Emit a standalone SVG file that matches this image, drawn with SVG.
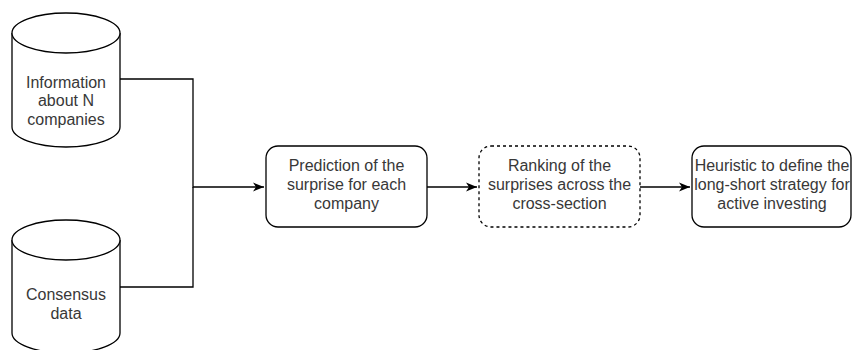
<svg xmlns="http://www.w3.org/2000/svg" width="852" height="350" viewBox="0 0 852 350">
  <style>
    .shape { fill: #ffffff; stroke: #000000; stroke-width: 1.3; }
    .dashed { stroke-dasharray: 3 3; }
    .edge { fill: none; stroke: #000000; stroke-width: 1.3; }
    .label { font-family: "Liberation Sans", Arial, Helvetica, sans-serif; font-size: 16px; fill: #383838; text-anchor: middle; }
  </style>
  <defs>
    <marker id="arrow" viewBox="0 0 11 10" refX="11" refY="5" markerWidth="11" markerHeight="10" markerUnits="userSpaceOnUse" orient="auto">
      <path d="M0,0.5 L11,5 L0,9.5 L3,5 Z" fill="#000000"/>
    </marker>
  </defs>
  <rect width="852" height="350" fill="#ffffff"/>

  <!-- connectors -->
  <g id="edges">
    <path class="edge" d="M120,79 H193 V187 H264" marker-end="url(#arrow)"/>
    <path class="edge" d="M120,287 H193 V187"/>
    <path class="edge" d="M427,187 H477" marker-end="url(#arrow)"/>
    <path class="edge" d="M640,187 H690" marker-end="url(#arrow)"/>
  </g>

  <!-- data stores -->
  <g id="info-companies">
    <path class="shape" d="M12,33 A54,20 0 0 1 120,33 V127 A54,20 0 0 1 12,127 Z"/>
    <path class="shape" d="M12,33 A54,20 0 0 0 120,33" fill="none"/>
    <text class="label" x="66" y="87.5">Information</text>
    <text class="label" x="66" y="106">about N</text>
    <text class="label" x="66" y="124.5">companies</text>
  </g>

  <g id="consensus-data">
    <path class="shape" d="M12,240 A54,20 0 0 1 120,240 V333 A54,20 0 0 1 12,333 Z"/>
    <path class="shape" d="M12,240 A54,20 0 0 0 120,240" fill="none"/>
    <text class="label" x="66" y="300">Consensus</text>
    <text class="label" x="66" y="318.5">data</text>
  </g>

  <!-- processing steps -->
  <g id="prediction">
    <rect class="shape" x="266" y="146" width="161" height="81" rx="12" ry="12"/>
    <text class="label" x="346.5" y="171">Prediction of the</text>
    <text class="label" x="346.5" y="189.5">surprise for each</text>
    <text class="label" x="346.5" y="208.5">company</text>
  </g>

  <g id="ranking">
    <rect class="shape dashed" x="479" y="146" width="161" height="81" rx="12" ry="12"/>
    <text class="label" x="559.5" y="171">Ranking of the</text>
    <text class="label" x="559.5" y="189.5">surprises across the</text>
    <text class="label" x="559.5" y="208.5">cross-section</text>
  </g>

  <g id="heuristic">
    <rect class="shape" x="692" y="146" width="159" height="81" rx="12" ry="12"/>
    <text class="label" x="772" y="171">Heuristic to define the</text>
    <text class="label" x="772" y="189.5">long-short strategy for</text>
    <text class="label" x="772" y="208.5">active investing</text>
  </g>
</svg>
